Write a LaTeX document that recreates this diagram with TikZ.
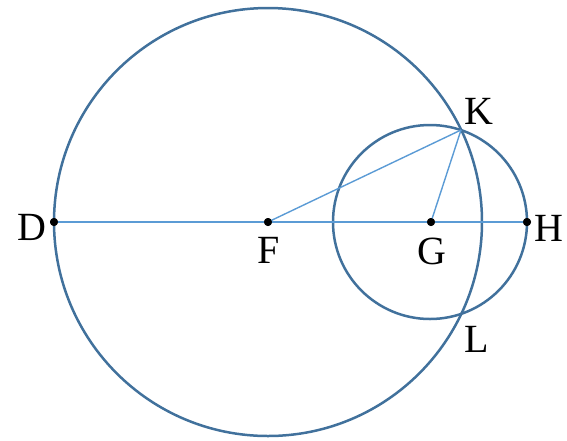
\documentclass[tikz,border=0pt]{standalone}
\usepackage{fontspec}
\setmainfont{Liberation Serif}
\definecolor{circ}{HTML}{41719C}
\definecolor{ln}{HTML}{5B9BD5}
\begin{document}
\begin{tikzpicture}[x=1pt,y=-1pt,
  circle line/.style={draw=circ,line width=2.5pt},
  thin line/.style={draw=ln,line width=1.4pt},
  pt/.style={circle,fill=black,inner sep=0pt,minimum size=8pt},
  lab/.style={font=\fontsize{40}{40}\selectfont,inner sep=0pt}]
\useasboundingbox (0,0) rectangle (567,440);
\coordinate (Fc) at (268,222);
\coordinate (Gc) at (430,222);
\draw[circle line] (Fc) circle (214);
\draw[circle line] (Gc) circle (97);
\node[pt] (D) at (54,222) {};
\node[pt] (F) at (268,222) {};
\node[pt] (G) at (431,222) {};
\node[pt] (H) at (527,222) {};
\coordinate (K) at (461,130);
\coordinate (L) at (461,314);
\draw[thin line] (D.center) -- (H.center);
\draw[thin line] (F.center) -- (K);
\draw[thin line] (G.center) -- (K);
\node[pt] at (D) {};
\node[pt] at (F) {};
\node[pt] at (G) {};
\node[pt] at (H) {};
\node[lab] (tD) at (32,227) {D};
\node[lab] (tF) at (269,250) {F};
\node[lab] (tG) at (432,251) {G};
\node[lab] (tH) at (549,228) {H};
\node[lab] (tK) at (479,111) {K};
\node[lab] (tL) at (477,339) {L};
\end{tikzpicture}
\end{document}
